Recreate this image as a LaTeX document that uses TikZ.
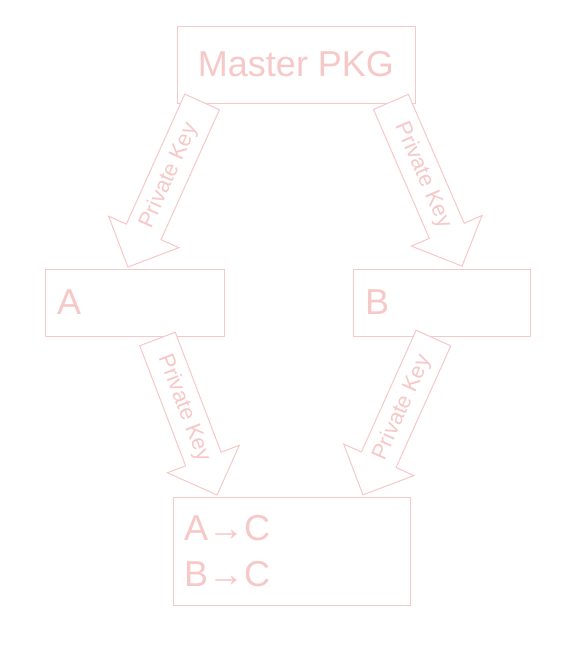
\documentclass[tikz,border=0pt]{standalone}
\usepackage{fontspec}
\setmainfont{Liberation Sans}
\usetikzlibrary{shapes.arrows}
\definecolor{fg}{RGB}{246,200,200}
\colorlet{bg}{white}
\tikzset{
  box/.style={draw=fg, fill=bg, text=fg, line width=1pt, font=\fontsize{36}{46}\selectfont},
  keyarrow/.style={single arrow, draw=fg, fill=bg, text=fg, line width=1pt,
    font=\fontsize{22}{26}\selectfont, text height=16pt, text depth=4.5pt,
    inner ysep=8.25pt, inner xsep=0pt, minimum width=0pt,
    single arrow head extend=19.5pt, single arrow tip angle=90},
}
\begin{document}
\begin{tikzpicture}[x=1pt, y=-1pt]
\useasboundingbox (0,0) rectangle (585,645);
\node[box, minimum width=238pt, minimum height=77pt, inner sep=0pt] (pkg) at (296,64.5) {Master PKG};
\node[box, minimum width=179pt, minimum height=67pt, inner xsep=12pt, inner ysep=0pt, text width=155pt, align=left] (A) at (134.5,302.5) {A};
\node[box, minimum width=177pt, minimum height=67pt, inner xsep=12pt, inner ysep=0pt, text width=153pt, align=left] (B) at (441.5,302.5) {B};
\node[box, minimum width=237pt, minimum height=108pt, inner xsep=11pt, inner ysep=0pt, text width=215pt, align=left] (C) at (291.5,551) {A→C\\B→C};
\node[keyarrow, minimum height=181pt, rotate=65.8, shape border rotate=180] (k1) at (168.9,175.8) {Private Key};
\node[keyarrow, minimum height=179pt, rotate=-66.6] (k2) at (422.7,175.3) {Private Key};
\node[keyarrow, minimum height=167pt, rotate=-69.1] (k3) at (183.9,408.1) {Private Key};
\node[keyarrow, minimum height=172pt, rotate=65.8, shape border rotate=180] (k4) at (402.1,407.8) {Private Key};
\end{tikzpicture}
\end{document}
